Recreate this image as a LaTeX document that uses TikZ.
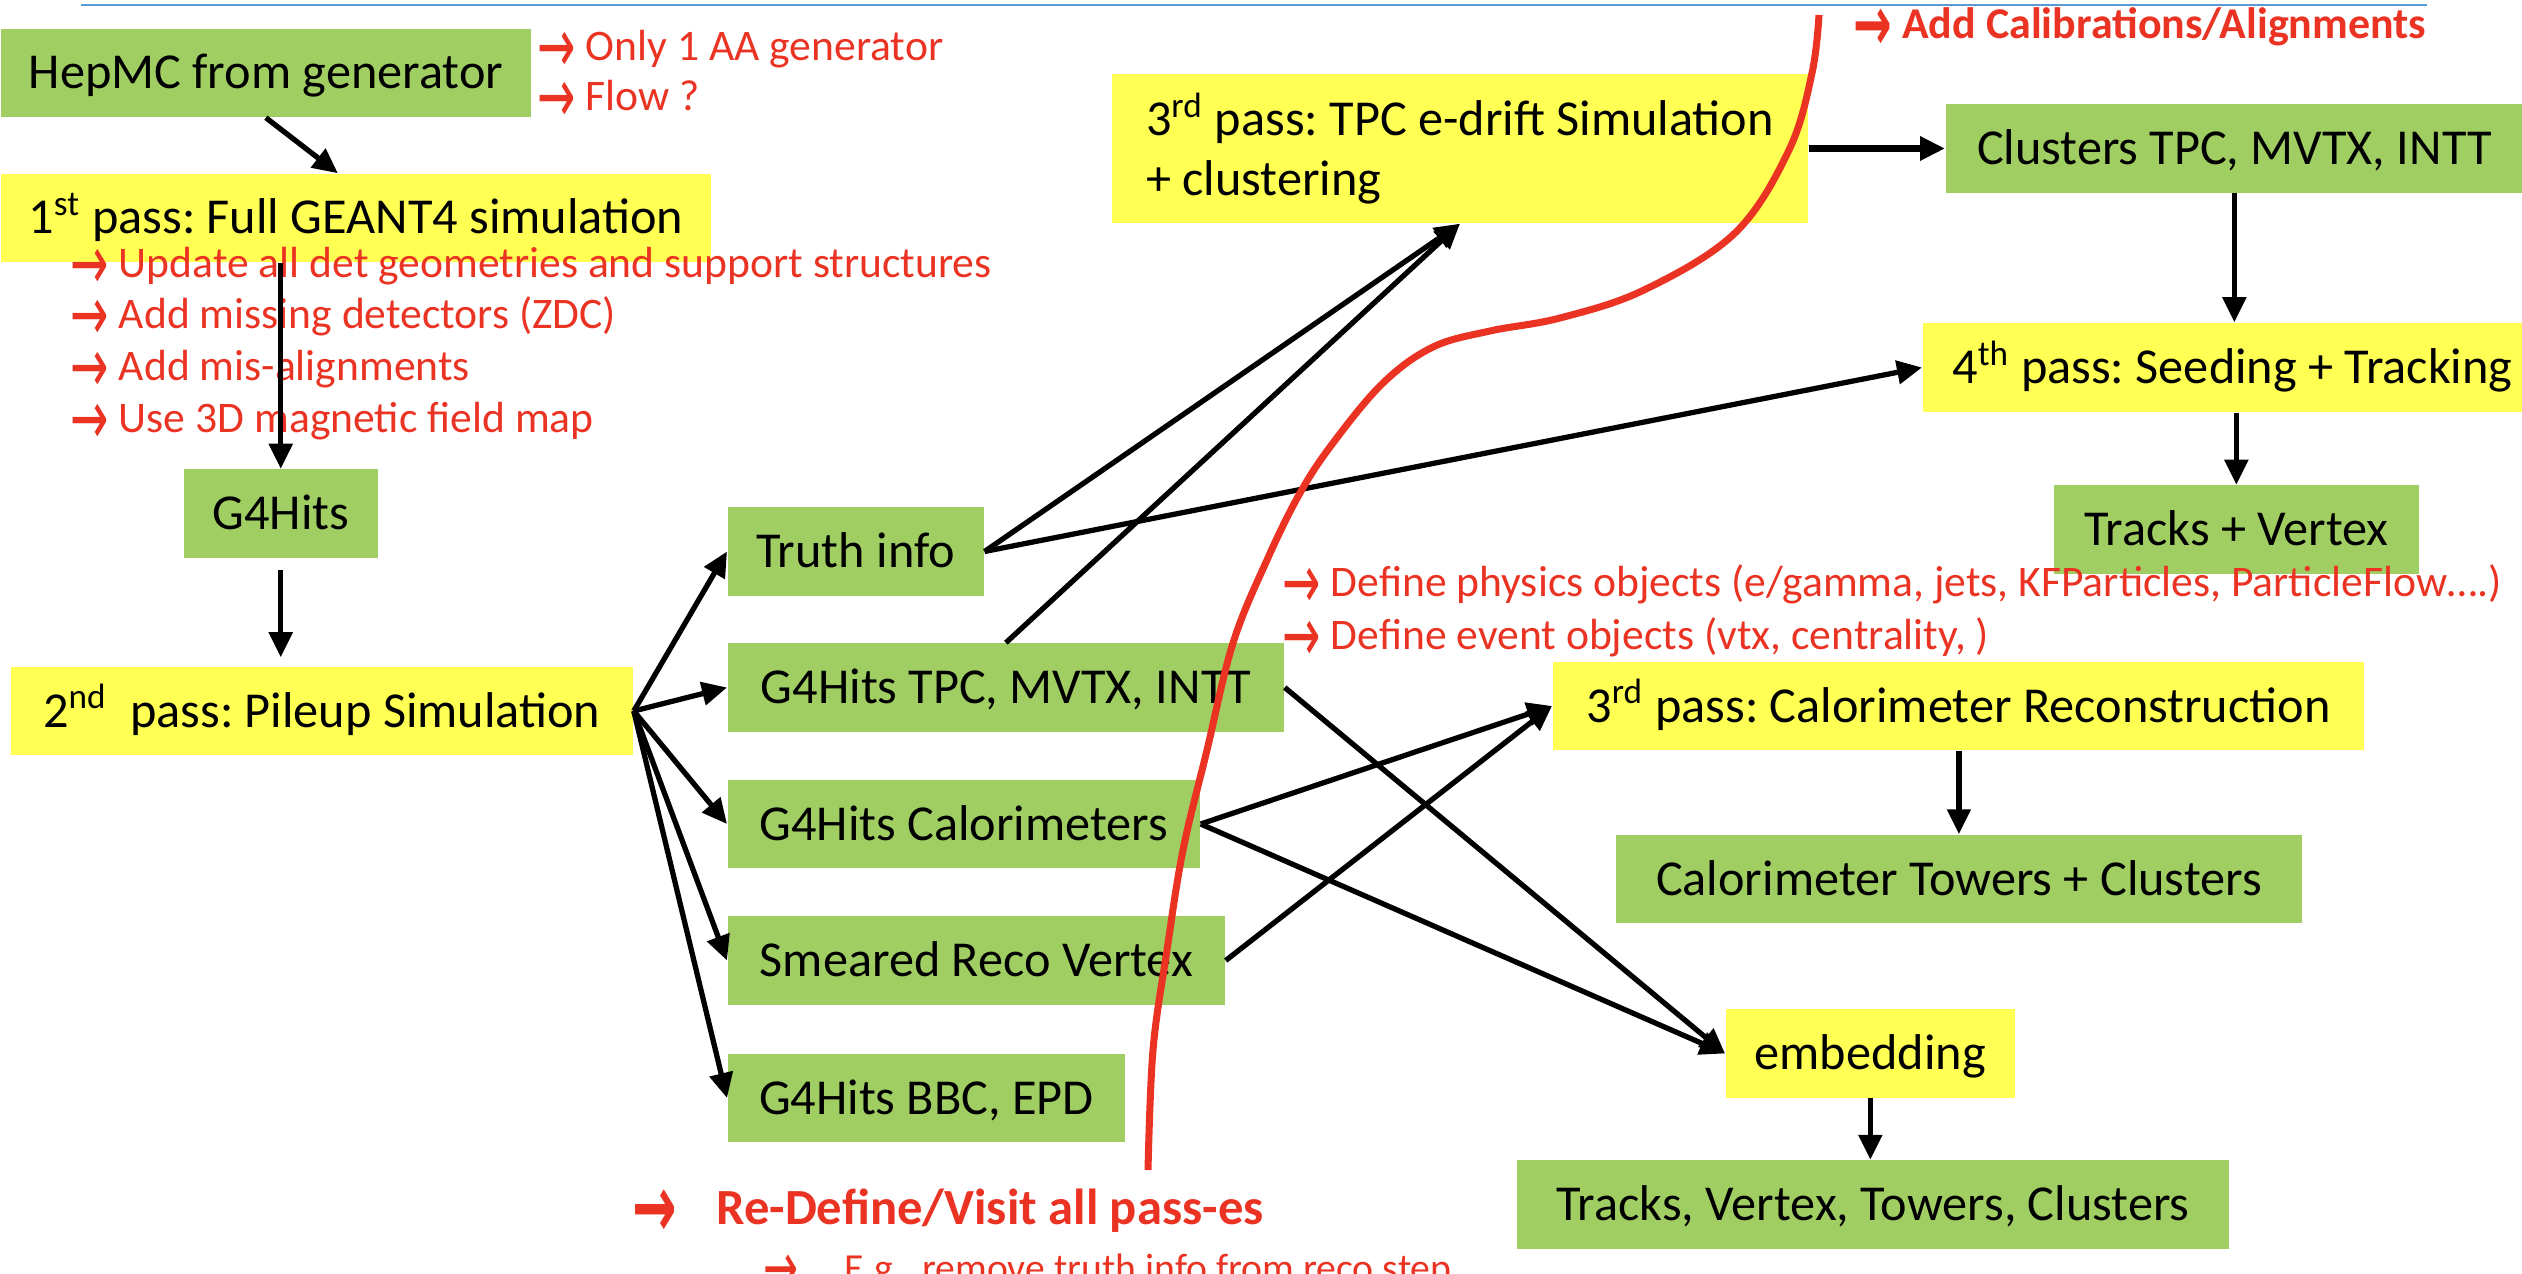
\documentclass[tikz,border=0pt]{standalone}
\usepackage{fontspec}
\setmainfont{Carlito}
\newfontfamily\arrowfont{DejaVu Sans}
\usetikzlibrary{arrows.meta}

\definecolor{boxgreen}{HTML}{A0CE62}
\definecolor{boxyellow}{HTML}{FFFF54}
\definecolor{notered}{HTML}{EA3323}
\definecolor{ruleblue}{HTML}{5B9BD5}

\newcommand\ra{\raisebox{-0.26em}{\scalebox{1.05}[1.75]{\arrowfont →}}}
\frenchspacing

\begin{document}
\begin{tikzpicture}[x=0.01cm, y=-0.01cm,
    box/.style={anchor=west, inner sep=0pt, minimum height=0.88cm, text height=0.41cm, text depth=0.09cm,
        align=left, font=\fontsize{14.3}{17}\selectfont},
    greenbox/.style={box, fill=boxgreen},
    yellowbox/.style={box, fill=boxyellow},
    note/.style={anchor=west, inner sep=0pt, text height=0.32cm, text depth=0.1cm, text=notered,
        font=\fontsize{12.4}{14}\selectfont},
    arr/.style={-{Triangle[length=0.25cm, width=0.23cm]}, line width=1.5pt},
    ]
\useasboundingbox (0,0) rectangle (2522,1274);
\draw[ruleblue, line width=0.6pt] (81,5) -- (2427,5);

% left column
\node[greenbox, minimum width=5.30cm] (hepmc) at (0,73) {HepMC from generator};
\node[yellowbox, minimum width=7.10cm] (pass1) at (0,218) {1\textsuperscript{st} pass: Full GEANT4 simulation};
\node[greenbox, minimum width=1.94cm] (g4hits) at (183,513.5) {G4Hits};
\node[yellowbox, minimum width=6.22cm] (pass2) at (10,711) {2\textsuperscript{nd}~ pass: Pileup Simulation};

% hits
\node[greenbox, minimum width=2.56cm] (truth) at (727,551.5) {Truth info};
\node[greenbox, minimum width=5.56cm] (tpchits) at (727,687.5) {G4Hits TPC, MVTX, INTT};
\node[greenbox, minimum width=4.72cm] (calohits) at (727,824) {G4Hits Calorimeters};
\node[greenbox, minimum width=4.97cm] (vertex) at (727,960.5) {Smeared Reco Vertex};
\node[greenbox, minimum width=3.97cm] (bbchits) at (727,1098) {G4Hits BBC, EPD};

% reconstruction
\node[yellowbox, minimum width=6.96cm, minimum height=1.49cm, text height=, text depth=] (pass3tpc) at (1111,148.5)
    {3\textsuperscript{rd} pass: TPC e-drift Simulation\\+ clustering};
\node[greenbox, minimum width=5.77cm] (clusters) at (1945,148.5) {Clusters TPC, MVTX, INTT};
\node[yellowbox, minimum width=6.19cm, minimum height=0.89cm] (pass4) at (1922,367.5) {4\textsuperscript{th} pass: Seeding + Tracking};
\node[greenbox, minimum width=3.65cm] (tracks) at (2053,529.5) {Tracks + Vertex};
\node[yellowbox, minimum width=8.11cm] (pass3calo) at (1552,706) {3\textsuperscript{rd} pass: Calorimeter Reconstruction};
\node[greenbox, minimum width=6.86cm] (towers) at (1615,879) {Calorimeter Towers + Clusters};
\node[yellowbox, minimum width=2.89cm] (embed) at (1725,1053.5) {embedding};
\node[greenbox, minimum width=7.12cm] (final) at (1516,1204.5) {Tracks, Vertex, Towers, Clusters};

% notes
\node[note] (onlyaa) at (537,50) {\ra{} Only 1 AA generator};
\node[note] (flow) at (537,100) {\ra{} Flow ?};
\node[note] (geom) at (70,267) {\ra{} Update all det geometries and support structures};
\node[note] (zdc) at (70,318) {\ra{} Add missing detectors (ZDC)};
\node[note] (misalign) at (70,370) {\ra{} Add mis-alignments};
\node[note] (fieldmap) at (70,422) {\ra{} Use 3D magnetic field map};
\node[note, font=\bfseries\fontsize{12.5}{15}\selectfont] (calib) at (1853,28) {\ra{} Add Calibrations/Alignments};
\node[note] (physobj) at (1282,586) {\ra{} Define physics objects (e/gamma, jets, KFParticles, ParticleFlow….)};
\node[note] (evtobj) at (1282,639) {\ra{} Define event objects (vtx, centrality, )};
\node[note, text height=0.37cm, text depth=0.12cm, font=\bfseries\fontsize{14.4}{17}\selectfont] (redefine) at (632,1212)
    {\ra\hspace{0.39cm}Re-Define/Visit all pass-es};
\node[note, anchor=base west, font=\fontsize{11.3}{13}\selectfont] (eg) at (763,1281) {\ra\hspace{0.46cm}E.g., remove truth info from reco step};

% arrows
\draw[arr] (hepmc.south) -- ([xshift=-0.18cm]pass1.north);
\draw[arr] (pass1.south -| g4hits.north) -- (g4hits.north);
\draw[arr, shorten <=0.12cm, shorten >=0.09cm] (g4hits.south) -- (pass2.north -| g4hits.south);
\foreach \n in {truth, tpchits, calohits, vertex, bbchits}
    \draw[arr] (pass2.east) -- (\n.west);
\draw[arr] (truth.east) -- (pass3tpc.south);
\draw[arr] (tpchits.north) -- (pass3tpc.south);
\draw[arr] (truth.east) -- (pass4.west);
\draw[arr, line width=2.2pt] (pass3tpc.east) -- (clusters.west);
\draw[arr] (clusters.south) -- (clusters.south |- pass4.north);
\draw[arr] (pass4.south -| tracks.north) -- (tracks.north);
\draw[arr] (calohits.east) -- (pass3calo.west);
\draw[arr] (vertex.east) -- (pass3calo.west);
\draw[arr] (tpchits.east) -- (embed.west);
\draw[arr] (calohits.east) -- (embed.west);
\draw[arr] (pass3calo.south -| towers.north) -- (towers.north);
\draw[arr] (embed.south) -- (final.north -| embed.south);

% the red cut
\draw[notered, line width=2pt] plot[smooth, tension=0.6] coordinates {(1819,15) (1812,73) (1789,150) (1735,233)
    (1644,290) (1560,318) (1490,331) (1433,347) (1383,383) (1333,443) (1300,493) (1267,560)
    (1233,643) (1207,750) (1183,850) (1167,950) (1153,1050) (1148,1170)};
\end{tikzpicture}
\end{document}
